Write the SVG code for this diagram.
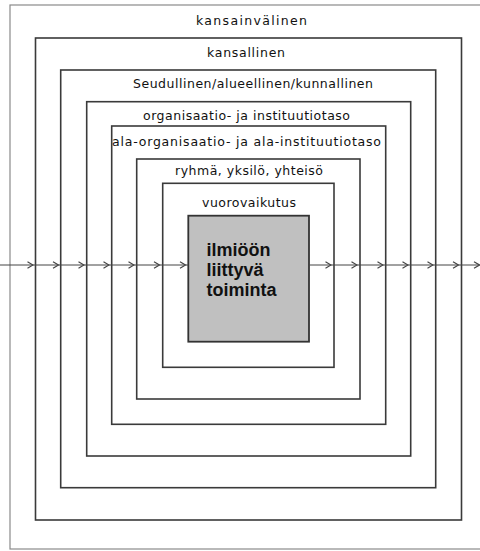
<svg xmlns="http://www.w3.org/2000/svg" width="480" height="551" viewBox="0 0 480 551">
  <defs>
    <style>
      .frame { fill: none; stroke: #3a3a3a; stroke-width: 1.6; }
      .outer { fill: none; stroke: #8a8a8a; stroke-width: 1.2; }
      .core { fill: #c0c0c0; stroke: #333; stroke-width: 1.8; }
      .lbl { font-family: "DejaVu Sans", "Liberation Sans", sans-serif; font-size: 12.5px; fill: #111; text-anchor: middle; }
      .core-lbl { font-family: "Liberation Sans", Arial, sans-serif; font-size: 18px; font-weight: bold; fill: #111; }
      .flow { stroke: #444; stroke-width: 1; fill: none; }
    </style>
    <marker id="tip" viewBox="0 0 8 8" refX="7" refY="4" markerWidth="8" markerHeight="8" markerUnits="userSpaceOnUse" orient="auto">
      <path d="M1.5,0.8 L7,4 L1.5,7.2" fill="none" stroke="#444" stroke-width="1.2"/>
    </marker>
  </defs>

  <rect width="480" height="551" fill="#ffffff"/>

  <!-- nested levels, outermost first -->
  <g id="level-international">
    <rect class="outer" x="10" y="5" width="480" height="544"/>
    <text class="lbl" x="251.5" y="25" textLength="111" lengthAdjust="spacing">kansainvälinen</text>
  </g>
  <g id="level-national">
    <rect class="frame" x="35.5" y="38" width="426" height="482"/>
    <text class="lbl" x="246" y="56.5" textLength="78" lengthAdjust="spacing">kansallinen</text>
  </g>
  <g id="level-regional">
    <rect class="frame" x="60.7" y="70" width="375" height="417.7"/>
    <text class="lbl" x="253" y="88" textLength="240" lengthAdjust="spacing">Seudullinen/alueellinen/kunnallinen</text>
  </g>
  <g id="level-organisation">
    <rect class="frame" x="86.7" y="101.7" width="324" height="354.3"/>
    <text class="lbl" x="246.5" y="119.5" textLength="207" lengthAdjust="spacing">organisaatio- ja instituutiotaso</text>
  </g>
  <g id="level-suborganisation">
    <rect class="frame" x="111.7" y="126" width="274" height="298.3"/>
    <text class="lbl" x="246.5" y="145.7" textLength="269" lengthAdjust="spacing">ala-organisaatio- ja ala-instituutiotaso</text>
  </g>
  <g id="level-group">
    <rect class="frame" x="136.7" y="159" width="223.3" height="240"/>
    <text class="lbl" x="249" y="175" textLength="148" lengthAdjust="spacing">ryhmä, yksilö, yhteisö</text>
  </g>
  <g id="level-interaction">
    <rect class="frame" x="162.7" y="183.3" width="171.3" height="184"/>
    <text class="lbl" x="249" y="207" textLength="94" lengthAdjust="spacing">vuorovaikutus</text>
  </g>
  <g id="core-activity">
    <rect class="core" x="188.3" y="215.7" width="120.7" height="126"/>
    <text class="core-lbl" x="206.5" y="256">ilmiöön</text>
    <text class="core-lbl" x="206.5" y="276">liittyvä</text>
    <text class="core-lbl" x="206.5" y="296">toiminta</text>
  </g>

  <!-- horizontal flow through every level -->
  <g id="connectors">
    <line class="flow" x1="0" y1="265" x2="33" y2="265" marker-end="url(#tip)"/>
    <line class="flow" x1="33" y1="265" x2="58.5" y2="265" marker-end="url(#tip)"/>
    <line class="flow" x1="58.5" y1="265" x2="84" y2="265" marker-end="url(#tip)"/>
    <line class="flow" x1="84" y1="265" x2="109" y2="265" marker-end="url(#tip)"/>
    <line class="flow" x1="109" y1="265" x2="134" y2="265" marker-end="url(#tip)"/>
    <line class="flow" x1="134" y1="265" x2="159.5" y2="265" marker-end="url(#tip)"/>
    <line class="flow" x1="159.5" y1="265" x2="185.5" y2="265" marker-end="url(#tip)"/>
    <line class="flow" x1="185.5" y1="265" x2="188.3" y2="265"/>
    <line class="flow" x1="309" y1="265" x2="331" y2="265" marker-end="url(#tip)"/>
    <line class="flow" x1="331" y1="265" x2="357" y2="265" marker-end="url(#tip)"/>
    <line class="flow" x1="357" y1="265" x2="383" y2="265" marker-end="url(#tip)"/>
    <line class="flow" x1="383" y1="265" x2="408" y2="265" marker-end="url(#tip)"/>
    <line class="flow" x1="408" y1="265" x2="433" y2="265" marker-end="url(#tip)"/>
    <line class="flow" x1="433" y1="265" x2="458.5" y2="265" marker-end="url(#tip)"/>
    <line class="flow" x1="458.5" y1="265" x2="479.5" y2="265" marker-end="url(#tip)"/>
  </g>
</svg>
